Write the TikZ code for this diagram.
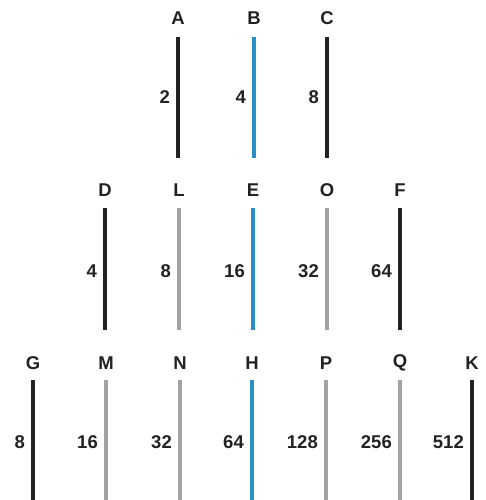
\documentclass[tikz,border=0pt]{standalone}
\usepackage{fontspec}
\setmainfont{Liberation Sans}
\definecolor{barblack}{HTML}{222222}
\definecolor{barblue}{HTML}{2A8FC4}
\definecolor{bargray}{HTML}{A3A3A3}

\tikzset{
  letter/.style={font=\fontsize{18.5}{22}\selectfont\bfseries,text=barblack,inner sep=0pt},
  value/.style={font=\fontsize{18.5}{22}\selectfont\bfseries,text=barblack,inner sep=0pt,anchor=east},
  bar/.style={line width=3.2pt}
}

\begin{document}
\begin{tikzpicture}[x=1pt,y=1pt]
\useasboundingbox (0,0) rectangle (485,500);

% top row
\foreach \name/\x/\val/\col in {A/178/2/barblack,B/254/4/barblue,C/327/8/barblack} {
  \node[letter] (\name) at (\x,482) {\name};
  \coordinate (\name top) at (\x,463);
  \coordinate (\name bot) at (\x,342);
  \draw[bar,draw=\col] (\name top) -- (\name bot);
  \node[value] (\name val) at (\x-8,403) {\val};
}

% middle row
\foreach \name/\x/\val/\col in {D/105/4/barblack,L/179/8/bargray,E/253/16/barblue,O/327/32/bargray,F/400/64/barblack} {
  \node[letter] (\name) at (\x,310) {\name};
  \coordinate (\name top) at (\x,292);
  \coordinate (\name bot) at (\x,170);
  \draw[bar,draw=\col] (\name top) -- (\name bot);
  \node[value] (\name val) at (\x-8,229) {\val};
}

% bottom row
\foreach \name/\x/\val/\col in {G/33/8/barblack,M/106/16/bargray,N/180/32/bargray,H/252/64/barblue,P/326/128/bargray,Q/400/256/bargray,K/472/512/barblack} {
  \node[letter] (\name) at (\x,137) {\name};
  \coordinate (\name top) at (\x,120);
  \coordinate (\name bot) at (\x,0);
  \draw[bar,draw=\col] (\name top) -- (\name bot);
  \node[value] (\name val) at (\x-8,58) {\val};
}
\end{tikzpicture}
\end{document}
